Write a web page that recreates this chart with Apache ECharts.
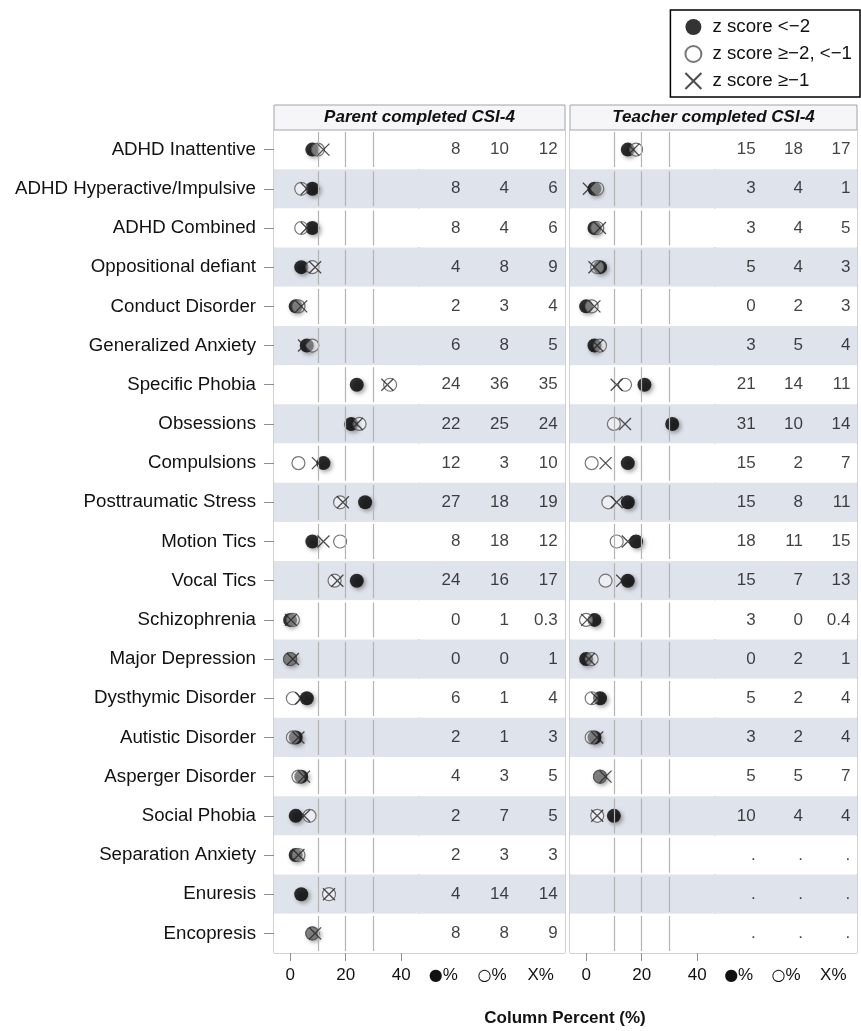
<!DOCTYPE html>
<html>
<head>
<meta charset="utf-8">
<script src="https://cdn.jsdelivr.net/npm/echarts@6/dist/echarts.min.js"></script>
<style>
  html, body { margin: 0; padding: 0; background: #fff; }
  #chart { width: 861px; height: 1031px; }
</style>
</head>
<body>
<div id="chart"></div>
<script>
// Disorders, top to bottom
const categories = [
  'ADHD Inattentive', 'ADHD Hyperactive/Impulsive', 'ADHD Combined',
  'Oppositional defiant', 'Conduct Disorder', 'Generalized Anxiety',
  'Specific Phobia', 'Obsessions', 'Compulsions', 'Posttraumatic Stress',
  'Motion Tics', 'Vocal Tics', 'Schizophrenia', 'Major Depression',
  'Dysthymic Disorder', 'Autistic Disorder', 'Asperger Disorder',
  'Social Phobia', 'Separation Anxiety', 'Enuresis', 'Encopresis'
];

// Parent completed CSI-4 (column percent)
const parentFilled = [8, 8, 8, 4, 2, 6, 24, 22, 12, 27, 8, 24, 0, 0, 6, 2, 4, 2, 2, 4, 8];
const parentOpen   = [10, 4, 4, 8, 3, 8, 36, 25, 3, 18, 18, 16, 1, 0, 1, 1, 3, 7, 3, 14, 8];
const parentCross  = [12, 6, 6, 9, 4, 5, 35, 24, 10, 19, 12, 17, 0.3, 1, 4, 3, 5, 5, 3, 14, 9];

// Teacher completed CSI-4 (column percent); last three not collected
const teacherFilled = [15, 3, 3, 5, 0, 3, 21, 31, 15, 15, 18, 15, 3, 0, 5, 3, 5, 10, null, null, null];
const teacherOpen   = [18, 4, 4, 4, 2, 5, 14, 10, 2, 8, 11, 7, 0, 2, 2, 2, 5, 4, null, null, null];
const teacherCross  = [17, 1, 5, 3, 3, 4, 11, 14, 7, 11, 15, 13, 0.4, 1, 4, 4, 7, 4, null, null, null];

const tableColumns = ['●%', '○%', 'X%'];
const xTickValues = [0, 20, 40];
const referenceLines = [10, 20, 30];

const legendNames = ['z score <\u22122', 'z score \u2265\u22122, <\u22121', 'z score \u2265\u22121'];
const panelTitles = ['Parent completed CSI-4', 'Teacher completed CSI-4'];

const FONT = 'Liberation Sans, Arial, Helvetica, sans-serif';
const BORDER = '#9ea3ab';
const BAND = '#dfe3ec';
const CROSS_PATH = 'path://M0,0L10,10M10,0L0,10';

const TOP = 130, HEIGHT = 823;
const grids = [
  { left: 274, top: TOP, width: 145, height: HEIGHT },
  { left: 419, top: TOP, width: 146, height: HEIGHT },
  { left: 570, top: TOP, width: 145, height: HEIGHT },
  { left: 715, top: TOP, width: 142, height: HEIGHT }
].map(g => Object.assign({ show: true, borderColor: BORDER, borderWidth: 1, backgroundColor: 'transparent' }, g));

function yAxisFor(i) {
  const withLabels = i === 0;
  return {
    type: 'category', gridIndex: i, data: categories, inverse: true,
    axisLine: { show: false, onZero: false },
    axisTick: { show: withLabels, alignWithLabel: true, length: 10, lineStyle: { color: '#8a8e96' } },
    axisLabel: { show: withLabels, interval: 0, fontSize: 18.7, color: '#111', margin: 18, fontFamily: FONT },
    splitLine: { show: false },
    splitArea: { show: true, interval: 0, areaStyle: { color: ['#ffffff', BAND] } }
  };
}

function valueXAxis(i) {
  return {
    type: 'value', gridIndex: i, min: -5.8, max: 46.4,
    axisLine: { show: false, onZero: false },
    axisTick: { show: true, customValues: xTickValues, length: 8, lineStyle: { color: '#8a8e96' } },
    axisLabel: { show: true, customValues: xTickValues, fontSize: 17, color: '#111', margin: 14, fontFamily: FONT },
    splitLine: { show: false }
  };
}

function tableXAxis(i) {
  return {
    type: 'category', gridIndex: i, data: tableColumns, boundaryGap: true,
    axisLine: { show: false, onZero: false }, axisTick: { show: false },
    axisLabel: {
      interval: 0, fontSize: 17, color: '#111', margin: 14, fontFamily: FONT,
      formatter: v => v.replace(/^([●○])/, '{s|$1}'),
      rich: { s: { fontSize: 16, fontFamily: 'DejaVu Sans, sans-serif', color: '#111' } }
    },
    splitLine: { show: false }
  };
}

function pointData(values) {
  const out = [];
  values.forEach((v, r) => { if (v !== null) out.push([v, r]); });
  return out;
}

function fmt(v) { return v === null ? '.' : String(v); }

function tableData(cols) {
  const out = [];
  cols.forEach((arr, c) => {
    arr.forEach((v, r) => {
      out.push({ value: [c, r], label: { formatter: fmt(v) } });
    });
  });
  return out;
}

function panelSeries(plotIdx, tableIdx, filled, open, cross) {
  return [
    {
      type: 'scatter', xAxisIndex: plotIdx, yAxisIndex: plotIdx, data: [], silent: true, z: 1,
      markLine: {
        silent: true, symbol: ['none', 'none'], label: { show: false }, animation: false,
        lineStyle: { color: '#b4b4b4', width: 1.2, type: [35, 4.2], dashOffset: 37.1 },
        data: referenceLines.map(v => ({ xAxis: v }))
      }
    },
    {
      name: legendNames[0], type: 'scatter', xAxisIndex: plotIdx, yAxisIndex: plotIdx, z: 3,
      symbol: 'circle', symbolSize: 14, data: pointData(filled),
      itemStyle: { color: '#000', shadowBlur: 4, shadowOffsetX: 2, shadowOffsetY: 2, shadowColor: 'rgba(0,0,0,0.45)' }
    },
    {
      name: legendNames[1], type: 'scatter', xAxisIndex: plotIdx, yAxisIndex: plotIdx, z: 4,
      symbol: 'circle', symbolSize: 13, data: pointData(open),
      itemStyle: { color: 'rgba(255,255,255,0.5)', borderColor: '#555', borderWidth: 1.2 }
    },
    {
      name: legendNames[2], type: 'scatter', xAxisIndex: plotIdx, yAxisIndex: plotIdx, z: 5,
      symbol: CROSS_PATH, symbolSize: 12, data: pointData(cross),
      itemStyle: { color: 'transparent', borderColor: '#222', borderWidth: 1.3 }
    },
    {
      type: 'scatter', xAxisIndex: tableIdx, yAxisIndex: tableIdx, symbolSize: 0, silent: true, z: 3,
      data: tableData([filled, open, cross]),
      label: { show: true, position: 'inside', align: 'right', offset: [17, 0], fontSize: 17, color: '#111', fontFamily: FONT }
    }
  ];
}

function header(x, w, text) {
  return [
    { type: 'rect', shape: { x: x, y: 105, width: w, height: 25 }, style: { fill: '#f6f6f8', stroke: BORDER, lineWidth: 1 }, z: 10 },
    { type: 'text', x: x + w / 2, y: 117.5, style: { text: text, fontSize: 17, fontWeight: 'bold', fontStyle: 'italic', fontFamily: FONT, fill: '#111', align: 'center', verticalAlign: 'middle' }, z: 11 }
  ];
}

const option = {
  animation: false,
  textStyle: { fontFamily: FONT },
  grid: grids,
  xAxis: [valueXAxis(0), tableXAxis(1), valueXAxis(2), tableXAxis(3)],
  yAxis: [yAxisFor(0), yAxisFor(1), yAxisFor(2), yAxisFor(3)],
  legend: {
    data: legendNames, orient: 'vertical', right: 1, top: 10,
    backgroundColor: '#fff', borderColor: '#000', borderWidth: 1.5,
    padding: [6, 8, 5, 14], itemGap: 5, itemWidth: 16, itemHeight: 16,
    textStyle: { fontSize: 18.7, lineHeight: 22, color: '#111', fontFamily: FONT, padding: [0, 0, 0, 6] }
  },
  series: [].concat(
    panelSeries(0, 1, parentFilled, parentOpen, parentCross),
    panelSeries(2, 3, teacherFilled, teacherOpen, teacherCross)
  ),
  graphic: [].concat(
    header(274, 291, panelTitles[0]),
    header(570, 287, panelTitles[1]),
    [{ type: 'text', x: 565, y: 1018, style: { text: 'Column Percent (%)', fontSize: 17, fontWeight: 'bold', fontFamily: FONT, fill: '#111', align: 'center', verticalAlign: 'middle' } }]
  )
};

const chart = echarts.init(document.getElementById('chart'), null, { renderer: 'canvas' });
chart.setOption(option);
</script>
</body>
</html>
